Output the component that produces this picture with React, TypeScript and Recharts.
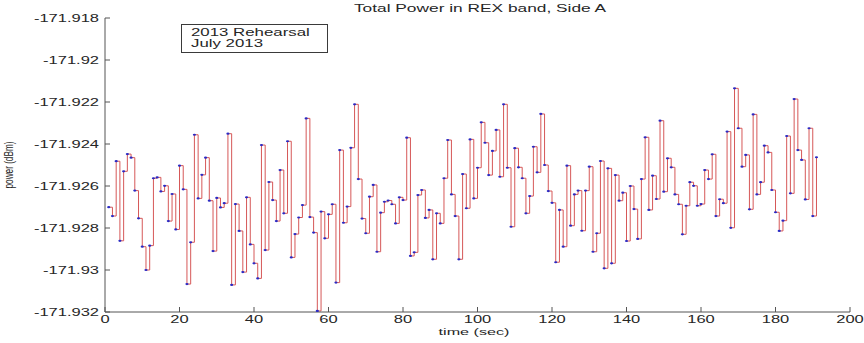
import React from 'react';
import { LineChart, Line, XAxis, YAxis } from 'recharts';

// ---------- data ----------
const START_TIME = 1; // seconds, one sample per second
const powerValues: number[] = [
  -171.92701, -171.92743, -171.92482, -171.92861, -171.9253, -171.92448, -171.92465, -171.92622, -171.92754, -171.92889,
  -171.93, -171.92884, -171.92563, -171.92559, -171.92626, -171.92599, -171.92767, -171.92638, -171.92807, -171.92503,
  -171.92616, -171.93067, -171.92868, -171.92356, -171.92659, -171.92547, -171.92465, -171.9267, -171.9291, -171.92657,
  -171.92702, -171.92682, -171.92351, -171.93071, -171.92686, -171.92814, -171.9301, -171.92654, -171.92878, -171.92968,
  -171.9304, -171.92405, -171.92905, -171.92581, -171.92667, -171.92767, -171.92524, -171.9273, -171.92387, -171.9294,
  -171.92829, -171.9275, -171.92691, -171.92278, -171.92748, -171.92822, -171.93195, -171.92722, -171.92849, -171.92735,
  -171.92687, -171.9306, -171.92429, -171.92775, -171.92698, -171.92418, -171.92211, -171.92567, -171.92755, -171.92825,
  -171.92651, -171.92595, -171.92913, -171.92727, -171.92675, -171.92669, -171.92687, -171.92778, -171.92654, -171.92667,
  -171.9237, -171.92933, -171.92916, -171.92643, -171.92619, -171.92752, -171.92714, -171.92949, -171.9273, -171.92778,
  -171.92563, -171.92381, -171.9264, -171.92743, -171.92949, -171.92543, -171.92706, -171.92378, -171.92659, -171.92513,
  -171.92297, -171.92394, -171.92548, -171.92433, -171.92333, -171.92556, -171.92211, -171.92513, -171.92794, -171.9242,
  -171.92511, -171.92563, -171.9273, -171.92648, -171.92413, -171.92535, -171.92257, -171.925, -171.92624, -171.9268,
  -171.92963, -171.92714, -171.92889, -171.92503, -171.92789, -171.9264, -171.92622, -171.92813, -171.92622, -171.92508,
  -171.92913, -171.92825, -171.92481, -171.92992, -171.92516, -171.92968, -171.92548, -171.9267, -171.92632, -171.92862,
  -171.926, -171.9271, -171.92852, -171.92567, -171.92368, -171.92714, -171.92551, -171.92662, -171.92289, -171.92627,
  -171.92468, -171.92511, -171.9264, -171.92687, -171.9283, -171.92694, -171.92582, -171.92599, -171.92694, -171.92686,
  -171.92524, -171.92567, -171.92449, -171.92743, -171.92663, -171.92682, -171.92341, -171.92799, -171.92135, -171.92325,
  -171.92508, -171.92452, -171.92711, -171.92259, -171.9264, -171.92582, -171.92408, -171.9244, -171.92619, -171.92725,
  -171.92814, -171.92765, -171.92362, -171.92635, -171.92186, -171.92429, -171.92476, -171.92664, -171.92325, -171.92743,
  -171.92463,
];

const xTicks = [0, 20, 40, 60, 80, 100, 120, 140, 160, 180, 200];
const yTicks = [-171.932, -171.93, -171.928, -171.926, -171.924, -171.922, -171.92, -171.918];
const yTickLabels = ['-171.932', '-171.93', '-171.928', '-171.926', '-171.924', '-171.922', '-171.92', '-171.918'];

const titleText = 'Total Power in REX band, Side A';
const xLabelText = 'time (sec)';
const yLabelText = 'power (dBm)';
const legendLines = ['2013 Rehearsal', 'July 2013'];

const data = powerValues.map((p, i) => ({ time: START_TIME + i, power: p }));

// ---------- style ----------
const SX = 1.65; // horizontal stretch of the original export
const FONT = '"Liberation Sans", Arial, Helvetica, sans-serif';
const AXIS_COLOR = '#555555';
const TEXT_COLOR = '#262626';
const TICK_LEN = 5;
const LINE_COLOR = '#d65858';
const DOT_COLOR = '#2a2ac4';

const yLabelFor = (v: number) => {
  let best = 0;
  for (let i = 0; i < yTicks.length; i++) {
    if (Math.abs(yTicks[i] - v) < Math.abs(yTicks[best] - v)) best = i;
  }
  return yTickLabels[best];
};

const BottomTick = (props: any) => {
  const { x, y, payload } = props;
  const axisY = y - 4;
  return (
    <g>
      <line x1={x} x2={x} y1={axisY} y2={axisY - TICK_LEN} stroke={AXIS_COLOR} strokeWidth={1} />
      <g transform={`translate(${x},${y}) scale(${SX},1)`}>
        <text x={0} y={0} dy="0.72em" textAnchor="middle" fontSize={10} fill={TEXT_COLOR} fontFamily={FONT}>
          {payload.value}
        </text>
      </g>
    </g>
  );
};

const LeftTick = (props: any) => {
  const { x, y, payload } = props;
  const axisX = x + 6;
  return (
    <g>
      <line x1={axisX} x2={axisX + TICK_LEN} y1={y} y2={y} stroke={AXIS_COLOR} strokeWidth={1} />
      <g transform={`translate(${x},${y}) scale(${SX},1)`}>
        <text x={0} y={0} dy="0.36em" textAnchor="end" fontSize={10} fill={TEXT_COLOR} fontFamily={FONT}>
          {yLabelFor(payload.value)}
        </text>
      </g>
    </g>
  );
};

const TopTick = (props: any) => {
  const { x, y } = props;
  return <line x1={x} x2={x} y1={y} y2={y + TICK_LEN} stroke={AXIS_COLOR} strokeWidth={1} />;
};

const RightTick = (props: any) => {
  const { x, y } = props;
  return <line x1={x} x2={x - TICK_LEN} y1={y} y2={y} stroke={AXIS_COLOR} strokeWidth={1} />;
};

const StepDot = (props: any) => {
  const { cx, cy, index } = props;
  if (cx == null || cy == null) return <g key={`d${index}`} />;
  return <ellipse key={`d${index}`} cx={cx} cy={cy} rx={1.6} ry={1.1} fill={DOT_COLOR} />;
};

export default function App() {
  return (
    <div style={{ position: 'absolute', left: 0, top: 0, width: 864, height: 343, background: '#ffffff' }}>
      <LineChart width={864} height={343} data={data} margin={{ top: 18, right: 14, bottom: 0, left: 0 }}>
        <XAxis
          xAxisId="bottom"
          dataKey="time"
          type="number"
          domain={[0, 200]}
          ticks={xTicks}
          interval={0}
          height={31}
          tickSize={0}
          tickMargin={4}
          tickLine={false}
          axisLine={{ stroke: AXIS_COLOR, strokeWidth: 1 }}
          tick={BottomTick}
          allowDataOverflow
        />
        <XAxis
          xAxisId="top"
          orientation="top"
          dataKey="time"
          type="number"
          domain={[0, 200]}
          ticks={xTicks}
          interval={0}
          height={0}
          tickSize={0}
          tickMargin={0}
          tickLine={false}
          axisLine={{ stroke: AXIS_COLOR, strokeWidth: 1 }}
          tick={TopTick}
          allowDataOverflow
        />
        <YAxis
          yAxisId="left"
          type="number"
          domain={[-171.932, -171.918]}
          ticks={yTicks}
          interval={0}
          width={105}
          tickSize={0}
          tickMargin={6}
          tickLine={false}
          axisLine={{ stroke: AXIS_COLOR, strokeWidth: 1 }}
          tick={LeftTick}
          allowDataOverflow
        />
        <YAxis
          yAxisId="right"
          orientation="right"
          type="number"
          domain={[-171.932, -171.918]}
          ticks={yTicks}
          interval={0}
          width={0}
          tickSize={0}
          tickMargin={0}
          tickLine={false}
          axisLine={{ stroke: AXIS_COLOR, strokeWidth: 1 }}
          tick={RightTick}
          allowDataOverflow
        />
        <Line
          xAxisId="bottom"
          yAxisId="left"
          type="stepAfter"
          dataKey="power"
          stroke={LINE_COLOR}
          strokeWidth={1}
          dot={StepDot}
          activeDot={false}
          isAnimationActive={false}
        />
      </LineChart>
      <svg
        width={864}
        height={343}
        style={{ position: 'absolute', left: 0, top: 0, pointerEvents: 'none' }}
      >
        <g transform={`translate(480,11.5) scale(${SX},1)`}>
          <text x={0} y={0} textAnchor="middle" fontSize={10.5} fill={TEXT_COLOR} fontFamily={FONT}>
            {titleText}
          </text>
        </g>
        <g transform={`translate(474,335) scale(${SX},1)`}>
          <text x={0} y={0} textAnchor="middle" fontSize={9.8} fill={TEXT_COLOR} fontFamily={FONT}>
            {xLabelText}
          </text>
        </g>
        <g transform={`translate(13,165) scale(${SX},1) rotate(-90)`}>
          <text x={0} y={0} textAnchor="middle" fontSize={8.2} fill={TEXT_COLOR} fontFamily={FONT}>
            {yLabelText}
          </text>
        </g>
        <rect x={181.5} y={24.5} width={146} height={28} fill="#ffffff" stroke="#3a3a3a" strokeWidth={1} />
        {legendLines.map((line, i) => (
          <g key={line} transform={`translate(191,${36 + i * 10.5}) scale(${SX},1)`}>
            <text x={0} y={0} fontSize={10.2} fill={TEXT_COLOR} fontFamily={FONT}>
              {line}
            </text>
          </g>
        ))}
      </svg>
    </div>
  );
}
